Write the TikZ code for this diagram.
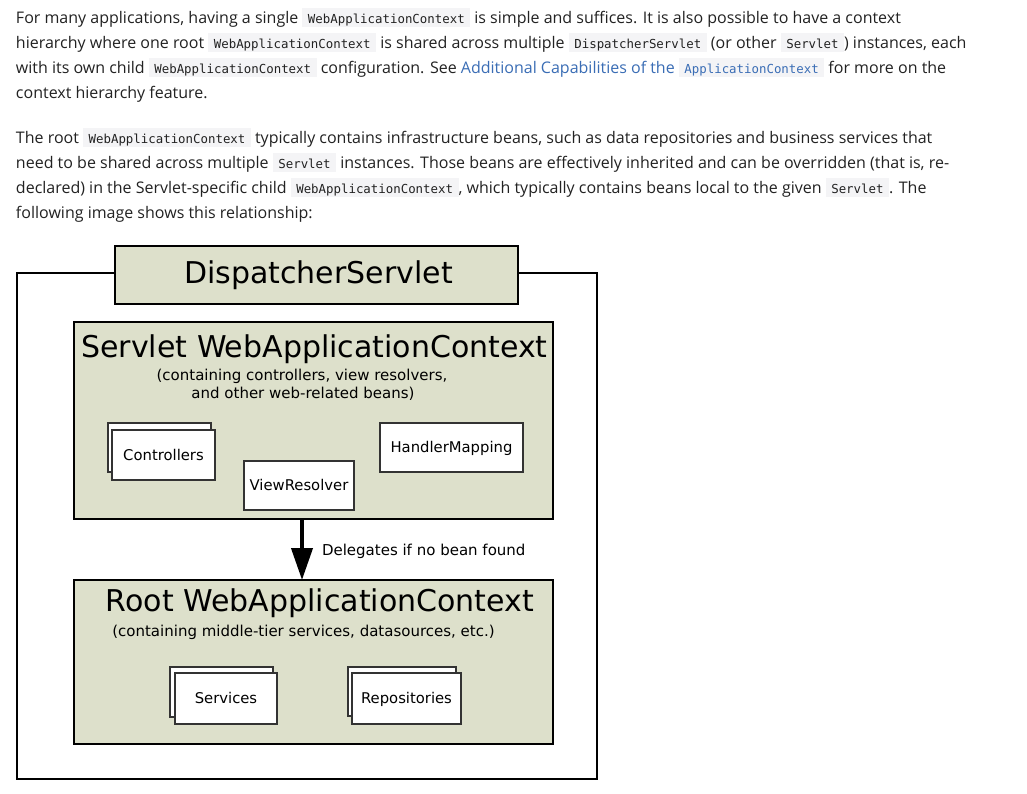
\documentclass[tikz,border=0pt]{standalone}
\usepackage{fontspec}
\setmainfont{Open Sans}
\newfontfamily\codefont{DejaVu Sans Mono}
\newfontfamily\dejavu{DejaVu Sans}
\usetikzlibrary{arrows.meta}
\definecolor{txt}{HTML}{222222}
\definecolor{codebg}{HTML}{F4F4F6}
\definecolor{linkc}{HTML}{3A6DB5}
\definecolor{ctxfill}{HTML}{DDE0CB}
\definecolor{beanborder}{HTML}{333333}
\newcommand\cde[1]{{\setlength\fboxsep{0pt}\colorbox{codebg}{\rule[-4pt]{0pt}{19.5pt}\hspace{5.5pt}{\codefont\fontsize{12.4}{15}\selectfont #1}\hspace{5.5pt}}}}
\newcommand\lnk[1]{{\color{linkc}#1}}
\begin{document}
\begin{tikzpicture}[x=1pt,y=-1pt,
  body/.style={anchor=base west, inner sep=0pt, outer sep=0pt, text=txt, font=\fontsize{16}{25}\selectfont},
  ctx/.style={draw=black, line width=2pt, fill=ctxfill, anchor=north west, inner sep=0pt, outer sep=0pt},
  frameb/.style={draw=black, line width=2pt, anchor=north west, inner sep=0pt, outer sep=0pt},
  bean/.style={draw=beanborder, line width=1.3pt, fill=white, anchor=north west, inner sep=0pt, outer sep=0pt, text height=10.9pt, text depth=0pt, font=\dejavu\fontsize{14.8}{18}\selectfont, text=black},
  ctitle/.style={anchor=base, inner sep=0pt, outer sep=0pt, font=\dejavu\fontsize{30}{36}\selectfont},
  cnote/.style={anchor=base, inner sep=0pt, outer sep=0pt, font=\dejavu\fontsize{15}{18}\selectfont},
  delegate/.style={line width=4pt, -{Triangle[width=21pt, length=32pt]}},
]
\useasboundingbox[fill=white] (0,0) rectangle (1027,793);

% paragraph 1
\node[body] (p1a) at (16,23) {For many applications, having a single \cde{WebApplicationContext} is simple and suffices. It is also possible to have a context};
\node[body] (p1b) at (16,48) {hierarchy where one root \cde{WebApplicationContext} is shared across multiple \cde{DispatcherServlet} (or other \cde{Servlet}) instances, each};
\node[body] (p1c) at (16,73) {with its own child \cde{WebApplicationContext} configuration. See \lnk{Additional Capabilities of the \cde{ApplicationContext}} for more on the};
\node[body] (p1d) at (16,98) {context hierarchy feature.};

% paragraph 2
\node[body] (p2a) at (16,143) {The root \cde{WebApplicationContext} typically contains infrastructure beans, such as data repositories and business services that};
\node[body] (p2b) at (16,168) {need to be shared across multiple \cde{Servlet} instances. Those beans are effectively inherited and can be overridden (that is, re-};
\node[body] (p2c) at (16,193) {declared) in the Servlet-specific child \cde{WebApplicationContext}, which typically contains beans local to the given \cde{Servlet}. The};
\node[body] (p2d) at (16,218) {following image shows this relationship:};

% diagram
\node[frameb, minimum width=580pt, minimum height=506pt] (frame) at (17,273) {};
\node[ctx, minimum width=403pt, minimum height=58pt] (ds) at (115,246) {};
\node[ctitle] (dstext) at (318.5,283) {DispatcherServlet};

\node[ctx, minimum width=479pt, minimum height=197pt] (servlet) at (74,322) {};
\node[ctitle] (servlettitle) at (314.5,357) {Servlet WebApplicationContext};
\node[cnote] (servletnote1) at (302,380) {(containing controllers, view resolvers,};
\node[cnote] (servletnote2) at (303,398) {and other web-related beans)};

\node[bean, minimum width=103pt, minimum height=49pt] (ctrlback) at (108,423) {};
\node[bean, minimum width=103pt, minimum height=50pt] (ctrl) at (112,430) {Controllers};
\node[bean, minimum width=110pt, minimum height=49pt] (vr) at (244,461) {ViewResolver};
\node[bean, minimum width=143pt, minimum height=49pt] (hm) at (380,423) {HandlerMapping};

\node[ctx, minimum width=479pt, minimum height=164pt] (root) at (74,580) {};
\node[ctitle] (roottitle) at (320,611) {Root WebApplicationContext};
\node[cnote] (rootnote) at (303.5,636) {(containing middle-tier services, datasources, etc.)};

\node[bean, minimum width=103pt, minimum height=50pt] (svcback) at (170,667) {};
\node[bean, minimum width=102pt, minimum height=51pt] (svc) at (175,673) {Services};
\node[bean, minimum width=108pt, minimum height=49pt] (repoback) at (348,667) {};
\node[bean, minimum width=109pt, minimum height=51pt] (repo) at (352,673) {Repositories};

\coordinate (arrtop) at (302,519);
\draw[delegate] (arrtop) -- (arrtop |- root.north);
\node[cnote, anchor=base west] (delegtext) at (322,555) {Delegates if no bean found};
\end{tikzpicture}
\end{document}
